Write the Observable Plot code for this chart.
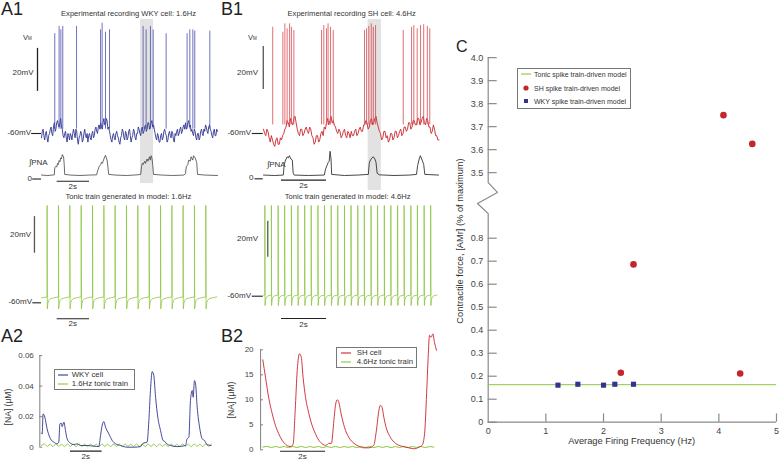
<!DOCTYPE html>
<html><head><meta charset="utf-8">
<script src="https://cdn.jsdelivr.net/npm/d3@7"></script>
<script src="https://cdn.jsdelivr.net/npm/@observablehq/plot@0.6"></script>
<style>
body{margin:0;background:#fff;}
#fig{position:relative;width:779px;height:462px;overflow:hidden;font-family:"Liberation Sans",Arial,sans-serif;color:#333;background:#fff;}
.lab{position:absolute;line-height:1;white-space:nowrap;}
.box{position:absolute;border:1px solid #777;background:#fff;box-sizing:border-box;}
</style></head><body><div id="fig"></div>
<script>
// ---------- DATA ----------
// A1: WKY recording (time s, membrane potential mV)
const baseA_dt = 0.05;
const baseA = [-62,-59,-58,-61,-63,-60,-59,-62,-64,-61,-60,-58,-57,-60,-61,-57,-55,-59,-58,-55,
 -54,-56,-57,-55,-53,-57,-58,-61,-62,-60,-59,-62,-64,-60,-61,-63,-60,-61,-63,-60,
 -58,-60,-62,-58,-59,-63,-65,-62,-61,-59,-60,-64,-63,-60,-58,-61,-62,-60,-64,-61,
 -60,-62,-63,-60,-59,-62,-61,-58,-57,-59,-60,-57,-56,-58,-55,-57,-58,-55,-53,-56,
 -56,-53,-54,-58,-57,-59,-61,-63,-64,-61,-60,-62,-63,-60,-59,-61,-62,-64,-65,-62,
 -61,-58,-59,-62,-63,-59,-60,-63,-62,-59,-58,-61,-64,-62,-61,-58,-59,-62,-63,-60,
 -60,-57,-58,-60,-61,-58,-57,-60,-59,-57,-56,-59,-58,-55,-55,-58,-57,-55,-54,-57,
 -56,-58,-60,-62,-63,-60,-61,-64,-64,-61,-60,-63,-62,-59,-58,-60,-61,-64,-63,-60,
 -59,-61,-62,-59,-60,-63,-64,-60,-61,-59,-58,-61,-60,-58,-57,-60,-59,-57,-56,-58,
 -55,-58,-57,-55,-54,-57,-56,-59,-58,-60,-61,-58,-59,-62,-63,-60,-60,-63,-62,-59,
 -58,-60,-61,-58,-59,-56,-57,-59,-60,-57,-56,-58,-59,-61,-62,-59,-58,-61,-61,-58,-59];
const spikeA_t = [0.83,1.10,1.21,1.33,2.19,3.69,3.79,4.00,4.25,6.35,6.54,6.81,6.98,7.79,9.10,9.27,9.46,9.58,10.52];
const spikeA_peak = [-13.6,-10.2,-11.8,-10.2,-10.2,-11.8,-8.7,-12.9,-11.8,-10.2,-11.8,-10.2,-11.8,-13.6,-13.6,-11.8,-11.8,-12.4,-12.4];
const pnaA_t = [0,0.4,0.8,0.83,0.9,0.95,1.0,1.05,1.1,1.15,1.2,1.25,1.3,1.38,1.42,1.45,1.8,2.4,3.0,3.45,3.5,3.6,3.7,3.75,3.8,3.9,3.95,4.0,4.05,4.1,4.15,4.2,4.6,5.3,6.0,6.2,6.25,6.3,6.35,6.45,6.5,6.6,6.65,6.75,6.8,6.85,6.9,6.95,7.0,7.5,8.2,8.9,9.0,9.05,9.15,9.2,9.3,9.35,9.45,9.5,9.6,9.7,9.75,10.2,11];
const pnaA_v = [0.02,0,0.03,0.35,0.42,0.38,0.55,0.5,0.68,0.62,0.8,0.75,0.95,0.85,0.5,0.05,0.02,0,0.02,0.03,0.2,0.4,0.5,0.6,0.55,0.75,0.85,0.92,0.8,0.7,0.4,0.05,0.02,0,0.03,0.05,0.4,0.55,0.5,0.65,0.55,0.75,0.65,0.85,0.7,0.9,0.8,0.5,0.05,0.02,0,0.02,0.08,0.4,0.5,0.7,0.65,0.85,0.7,0.9,0.8,0.6,0.05,0.02,0];
const shadeA = [6.19, 7.0];

// B1: SH recording
const baseB_dt = 0.05;
const baseB = [-58,-60,-61,-58,-59,-62,-64,-61,-63,-65,-66,-63,-62,-65,-65,-62,-63,-61,-60,-58,
 -57,-54,-55,-57,-53,-55,-56,-53,-52,-55,-58,-60,-61,-58,-58,-61,-60,-58,-57,-59,
 -60,-57,-58,-61,-62,-65,-64,-61,-61,-64,-63,-60,-59,-61,-57,-58,-55,-53,-56,-54,
 -52,-55,-54,-56,-57,-59,-60,-58,-59,-62,-61,-59,-58,-61,-62,-59,-60,-62,-59,-61,
 -61,-59,-58,-61,-60,-58,-57,-59,-59,-56,-56,-54,-55,-58,-57,-54,-53,-56,-55,-53,
 -52,-55,-57,-59,-60,-63,-62,-59,-59,-62,-61,-64,-63,-60,-60,-63,-62,-59,-59,-62,
 -61,-59,-58,-61,-60,-57,-57,-59,-58,-55,-55,-58,-57,-54,-54,-56,-56,-53,-53,-56,
 -55,-53,-52,-55,-56,-53,-54,-57,-57,-60,-59,-56,-58,-61,-61,-63,-63];
const spikeB_t = [0.41,0.86,0.95,1.05,1.16,1.24,1.35,2.58,2.68,2.80,2.87,2.98,3.10,4.49,4.58,4.68,4.79,4.88,4.98,6.21,6.58,6.68,6.83,6.98,7.12,7.28,7.39];
const spikeB_peak = [-10.6,-12.9,-9.0,-11.3,-9.0,-10.6,-12.1,-12.1,-9.8,-11.3,-9.0,-10.6,-12.1,-12.1,-11.3,-10.2,-9.0,-10.6,-9.8,-12.1,-10.6,-9.8,-11.3,-9.8,-9.4,-10.2,-11.3];
const pnaB_t = [0,0.5,0.88,0.92,0.98,1.05,1.1,1.15,1.22,1.28,1.32,1.36,2.0,2.7,2.76,2.82,2.88,2.92,2.96,3.0,3.03,3.6,4.2,4.66,4.7,4.75,4.82,4.88,4.95,5.0,5.05,5.15,5.8,6.5,6.8,6.85,6.92,6.97,7.05,7.12,7.17,7.78];
const pnaB_v = [0.02,0,0.02,0.5,0.7,0.85,0.8,0.9,0.75,0.7,0.1,0.02,0,0.02,0.3,0.45,0.6,0.65,1.1,0.75,0.05,0,0.02,0.05,0.55,0.7,0.8,0.85,0.75,0.6,0.1,0.03,0,0.02,0.05,0.45,0.75,0.9,0.7,0.5,0.05,0.02];
const shadeB = [4.65, 5.24];

// Tonic trains generated in model
const tonicA_t = [0.35,1.06,1.77,2.48,3.19,3.90,4.60,5.31,6.02,6.73,7.44,8.15,8.85,9.56,10.27];
const tonicA_dt = [0,0,0.015,0.05,0.1,0.2,0.4,0.69];
const tonicA_v = [-56.8,-6.8,-63.3,-60.3,-58.8,-57.8,-57.3,-56.8];
const tonicB_t = [0.06,0.35,0.65,0.94,1.24,1.53,1.83,2.12,2.42,2.71,3.01,3.30,3.60,3.89,4.19,4.48,4.78,5.07,5.37,5.66,5.96,6.25,6.55,6.84,7.14,7.43];
const tonicB_dt = [0,0,0.01,0.03,0.07,0.14,0.28];
const tonicB_v = [-59.3,-9.6,-65.2,-62,-60.5,-59.8,-59.4];

// A2: [NA] (µM), WKY cell and 1.6Hz tonic train
const naA_t = [0,0.04,0.10,0.21,0.35,0.56,0.77,0.98,1.08,1.15,1.25,1.29,1.40,1.5,1.6,1.81,2.02,2.23,2.44,2.85,3.27,3.58,3.69,3.79,3.9,4.0,4.1,4.21,4.42,4.63,4.94,5.35,5.77,6.19,6.35,6.6,6.71,6.81,6.92,7.02,7.13,7.27,7.44,7.6,7.69,7.79,8.06,8.48,9.0,9.1,9.21,9.31,9.42,9.48,9.56,9.63,9.73,9.88,10.04,10.19,10.35,10.6];
const naA_v = [0.0092,0.0087,0.0218,0.0196,0.012,0.0055,0.0033,0.0022,0.0033,0.0153,0.0157,0.0135,0.0164,0.0109,0.0055,0.0026,0.0017,0.0022,0.0011,0.0011,0.0007,0.0004,0.0076,0.0142,0.0168,0.0131,0.0109,0.0087,0.0044,0.0022,0.0011,0,0,0.0004,0.0026,0.0033,0.0174,0.0371,0.0495,0.0469,0.0327,0.0196,0.0109,0.0044,0.0039,0.0026,0.0011,0.0004,0.0011,0.0055,0.0065,0.0305,0.0371,0.0327,0.0436,0.0414,0.0262,0.0131,0.0055,0.0044,0.0017,0.0011];
const tonicNaA_dt = 0.18;
const tonicNaA = [0.0012,0.0022,0.0004,0.0021,0.0003,0.0023,0.0005,0.0020,0.0003,0.0022,0.0004,0.0021,0.0002,0.0023,0.0005,0.0021,0.0003,0.0022,0.0004,0.0020,0.0003,0.0022,0.0005,0.0021,0.0002,0.0023,0.0004,0.0021,0.0003,0.0022,0.0005,0.0020,0.0003,0.0022,0.0004,0.0021,0.0002,0.0023,0.0004,0.0021,0.0003,0.0022,0.0005,0.0020,0.0003,0.0022,0.0004,0.0021,0.0002,0.0023,0.0004,0.0021,0.0003,0.0022,0.0005,0.0020,0.0003,0.0022,0.0004,0.0021];
const naA_ticks = [0,0.02,0.04,0.06];
const naA_tickLabels = ["0","0.02","0.04","0.06"];

// B2: [NA] (µM), SH cell and 4.6Hz tonic train
const naB_t = [0.0,0.12,0.27,0.42,0.56,0.71,0.86,1.01,1.16,1.26,1.35,1.44,1.53,1.63,1.71,1.79,1.9,2.05,2.19,2.34,2.49,2.64,2.79,2.86,2.93,3.05,3.16,3.23,3.31,3.38,3.48,3.63,3.82,4.05,4.27,4.49,4.71,4.93,5.05,5.16,5.23,5.3,5.38,5.48,5.67,5.9,6.19,6.49,6.74,6.93,7.08,7.19,7.28,7.35,7.41,7.48,7.56,7.63,7.72];
const naB_v = [18.0,14.5,10.2,7.2,4.9,3.2,1.9,1.1,0.7,0.67,1.2,7.9,15.9,19.2,18.5,14.5,10.5,7.2,4.9,3.2,1.9,1.2,0.9,1.0,1.3,1.3,5.9,8.9,10.0,9.5,7.2,4.5,2.5,1.3,0.7,0.4,0.4,0.9,3.9,7.9,8.9,8.5,6.5,4.5,2.5,1.3,0.7,0.4,0.2,0.5,0.9,3.2,11.2,18.5,22.9,22.5,23.2,21.5,19.9];
const tonicNaB_dt = 0.19;
const tonicNaB = [0.55,0.68,0.45,0.66,0.47,0.67,0.44,0.65,0.46,0.68,0.45,0.66,0.47,0.67,0.44,0.65,0.46,0.68,0.45,0.66,0.47,0.67,0.44,0.65,0.46,0.68,0.45,0.66,0.47,0.67,0.44,0.65,0.46,0.68,0.45,0.66,0.47,0.67,0.44,0.65,0.55];
const naB_ticks = [0,5,10,15,20];

// C: contractile force vs average firing frequency
const tonicForce = 0.163;
const shFreq = [4.08,4.58,2.52,2.30,4.37];
const shForce = [3.75,3.625,0.686,0.215,0.212];
const wkyFreq = [1.21,1.555,2.0,2.196,2.52];
const wkyForce = [0.161,0.165,0.161,0.165,0.165];
const cTicksLow = [0,0.1,0.2,0.3,0.4,0.5,0.6,0.7,0.8];
const cTicksHigh = [3.5,3.6,3.7,3.8,3.9,4.0];
const cTicksX = [0,1,2,3,4,5];
const cBreak = 2.415; // axis break offset (upper segment shifted down)

// ---------- DRAWING ----------
const W = 779, H = 462;
const fig = document.getElementById("fig");
const FONT = '"Liberation Sans", Arial, sans-serif';
const BLUE = "#2f3590", RED = "#c9252b", GREEN = "#8dc641", AX = "#8a8a8a", INK = "#222";

function layer(xs, ys, marks) {
  const svg = Plot.plot({
    width: W, height: H, margin: 0,
    x: {...xs, axis: null}, y: {...ys, axis: null},
    style: {position: "absolute", left: "0px", top: "0px", background: "transparent", overflow: "visible", fontFamily: FONT},
    marks
  });
  fig.appendChild(svg);
}
function lab(text, x, y, o = {}) {
  const d = document.createElement("div");
  d.className = "lab";
  d.innerHTML = text;
  const tx = o.anchor === "start" ? "0" : o.anchor === "end" ? "-100%" : "-50%";
  d.style.left = x + "px"; d.style.top = y + "px";
  d.style.fontSize = (o.size || 8) + "px";
  d.style.color = o.color || "#333";
  d.style.transform = `translate(${tx},-50%)` + (o.rotate ? ` rotate(${o.rotate}deg)` : "");
  fig.appendChild(d);
}
const series = (ts, vs) => ts.map((t, i) => ({t, v: vs[i]}));
const sampled = (vs, dt) => vs.map((v, i) => ({t: i * dt, v}));
const train = (times, dts, vs, t0, v0) => {
  const out = [{t: t0, v: v0}];
  for (const s of times) dts.forEach((d, i) => out.push({t: s + d, v: vs[i]}));
  return out;
};

// A1 voltage
const xA1 = {domain: [0, 1], range: [41, 57]};
const yV1 = {domain: [-60, -40], range: [133, 90]};
layer(xA1, yV1, [
  Plot.rect([shadeA], {x1: d => d[0], x2: d => d[1], y1: -83.3, y2: -7, fill: "#e2e2e2"}),
  Plot.line(sampled(baseA, baseA_dt), {x: "t", y: "v", stroke: BLUE, strokeWidth: 0.9}),
  Plot.ruleX(series(spikeA_t, spikeA_peak), {x: "t", y1: -58, y2: "v", stroke: "#4a4fa8", strokeWidth: 0.8}),
  Plot.ruleX([-0.25], {y1: -40.4, y2: -20.4, stroke: INK, strokeWidth: 1.3}),
  Plot.ruleY([-60], {x1: -0.62, x2: 0, stroke: INK, strokeWidth: 1.1})
]);
const yP = {domain: [0, 1], range: [175, 153]};
layer(xA1, yP, [
  Plot.line(series(pnaA_t, pnaA_v), {x: "t", y: "v", stroke: "#444", strokeWidth: 0.8}),
  Plot.ruleY([-0.16], {x1: -0.55, x2: 0, stroke: INK, strokeWidth: 1.1}),
  Plot.ruleY([-0.26], {x1: 0.98, x2: 3.0, stroke: INK, strokeWidth: 1.1})
]);

// B1 voltage
const xB1 = {domain: [0, 1], range: [263, 285.5]};
layer(xB1, yV1, [
  Plot.rect([shadeB], {x1: d => d[0], x2: d => d[1], y1: -86.5, y2: -7, fill: "#e2e2e2"}),
  Plot.line(sampled(baseB, baseB_dt), {x: "t", y: "v", stroke: RED, strokeWidth: 0.9}),
  Plot.ruleX(series(spikeB_t, spikeB_peak), {x: "t", y1: -56, y2: "v", stroke: "#d64a4f", strokeWidth: 0.8}),
  Plot.ruleX([-0.01], {y1: -39.5, y2: -19.5, stroke: "#555", strokeWidth: 1.3}),
  Plot.ruleY([-60], {x1: -0.5, x2: -0.01, stroke: INK, strokeWidth: 1.1})
]);
layer(xB1, yP, [
  Plot.line(series(pnaB_t, pnaB_v), {x: "t", y: "v", stroke: "#333", strokeWidth: 0.9}),
  Plot.ruleY([-0.15], {x1: -0.38, x2: -0.01, stroke: INK, strokeWidth: 1.1}),
  Plot.ruleY([-0.21], {x1: 0.8, x2: 2.8, stroke: INK, strokeWidth: 1.1})
]);

// Tonic A
const yTA = {domain: [-60, -40], range: [302.3, 265.7]};
layer(xA1, yTA, [
  Plot.line(train(tonicA_t, tonicA_dt, tonicA_v, 0, -57.3), {x: "t", y: "v", stroke: GREEN, strokeWidth: 0.8}),
  Plot.ruleX([-0.44], {y1: -32.9, y2: -12.9, stroke: "#555", strokeWidth: 1.3}),
  Plot.ruleY([-60], {x1: -0.54, x2: 0, stroke: INK, strokeWidth: 1.1}),
  Plot.ruleY([-68.7], {x1: 0.98, x2: 3.0, stroke: INK, strokeWidth: 1.1})
]);
// Tonic B
const yTB = {domain: [-60, -40], range: [295.7, 259.7]};
layer(xB1, yTB, [
  Plot.line(train(tonicB_t, tonicB_dt, tonicB_v, 0, -59.4), {x: "t", y: "v", stroke: GREEN, strokeWidth: 0.8}),
  Plot.ruleX([0.19], {y1: -38.3, y2: -18.3, stroke: "#555", strokeWidth: 1.3}),
  Plot.ruleY([-60], {x1: -0.5, x2: -0.01, stroke: INK, strokeWidth: 1.1}),
  Plot.ruleY([-72.4], {x1: 0.8, x2: 2.8, stroke: INK, strokeWidth: 1.1})
]);

// A2
const xA2 = {domain: [0, 1], range: [41, 57]};
const yA2 = {domain: [0, 0.02], range: [446.7, 416.15]};
layer(xA2, yA2, [
  Plot.ruleX([-0.106], {y1: 0, y2: 0.06, stroke: AX, strokeWidth: 1.1}),
  Plot.ruleY(naA_ticks, {x1: -0.106, x2: 0.08, stroke: AX, strokeWidth: 1.1}),
  Plot.text(naA_ticks, {x: -0.106, y: d => d, text: (d, i) => naA_tickLabels[i], dx: -6, textAnchor: "end", fontSize: 8, fill: "#444"}),
  Plot.line(sampled(tonicNaA, tonicNaA_dt), {x: "t", y: "v", stroke: GREEN, strokeWidth: 0.9}),
  Plot.line(series(naA_t, naA_v), {x: "t", y: "v", stroke: BLUE, strokeWidth: 0.9, curve: "monotone-x"}),
  Plot.ruleY([-0.0026], {x1: 1.81, x2: 3.79, stroke: INK, strokeWidth: 1.1})
]);

// B2
const xB2 = {domain: [0, 1], range: [262.3, 284.8]};
const yB2 = {domain: [0, 5], range: [449.3, 424.3]};
layer(xB2, yB2, [
  Plot.ruleX([-0.1], {y1: 0, y2: 20, stroke: AX, strokeWidth: 1.1}),
  Plot.ruleY(naB_ticks, {x1: -0.1, x2: 0.03, stroke: AX, strokeWidth: 1.1}),
  Plot.text(naB_ticks, {x: -0.1, y: d => d, text: d => String(d), dx: -7, textAnchor: "end", fontSize: 8, fill: "#444"}),
  Plot.line(sampled(tonicNaB, tonicNaB_dt), {x: "t", y: "v", stroke: GREEN, strokeWidth: 1}),
  Plot.line(series(naB_t, naB_v), {x: "t", y: "v", stroke: RED, strokeWidth: 0.9, curve: "monotone-x"}),
  Plot.ruleY([-0.28], {x1: 0.79, x2: 2.79, stroke: INK, strokeWidth: 1.1})
]);

// C
const pos = v => v > 2 ? v - cBreak : v;
const xC = {domain: [0, 5], range: [487.7, 776]};
const yC = {domain: [0, 1], range: [421.7, 191.7]};
const yAxisLine = [{x: 0, y: 0}, {x: 0, y: 0.907}, {x: -0.186, y: 0.951}, {x: 0.16, y: 0.999}, {x: 0, y: 1.042}, {x: 0, y: pos(4.0)}];
const cTicksY = [...cTicksLow, ...cTicksHigh];
layer(xC, yC, [
  Plot.ruleY([0], {x1: 0, x2: 5, stroke: AX, strokeWidth: 1.2}),
  Plot.line(yAxisLine, {x: "x", y: "y", stroke: AX, strokeWidth: 1.2}),
  Plot.ruleY(cTicksY.map(pos), {x1: 0, x2: 0.156, stroke: AX, strokeWidth: 1.2}),
  Plot.ruleX(cTicksX.slice(1), {y1: 0, y2: 0.036, stroke: AX, strokeWidth: 1.2}),
  Plot.text(cTicksY, {x: 0, y: pos, text: d => d === 0 ? "0" : d.toFixed(1), dx: -5, textAnchor: "end", fontSize: 9, fill: "#444"}),
  Plot.text(cTicksX, {x: d => d, y: 0, text: d => String(d), dy: 9, fontSize: 9, fill: "#444"}),
  Plot.ruleY([tonicForce], {x1: 0, x2: 5, stroke: GREEN, strokeWidth: 1}),
  Plot.dot(series(wkyFreq, wkyForce), {x: "t", y: d => pos(d.v), symbol: "square", r: 2.9, fill: BLUE}),
  Plot.dot(series(shFreq, shForce), {x: "t", y: d => pos(d.v), r: 3.3, fill: "#c1272d"})
]);

// ---------- TEXT ----------
lab("A1", 1, 8.5, {size: 18, anchor: "start", color: "#222"});
lab("B1", 221, 8.5, {size: 18, anchor: "start", color: "#222"});
lab("A2", 1, 336, {size: 18, anchor: "start", color: "#222"});
lab("B2", 221, 336, {size: 18, anchor: "start", color: "#222"});
lab("C", 456, 47, {size: 16, anchor: "start", color: "#222"});

lab("Experimental recording WKY cell: 1.6Hz", 128.5, 14, {size: 7.6});
lab("Experimental recording SH cell: 4.6Hz", 351.7, 14, {size: 7.6});
lab("Tonic train generated in model: 1.6Hz", 128.3, 196.7, {size: 7.6});
lab("Tonic train generated in model: 4.6Hz", 347.7, 196.7, {size: 7.6});

const vm = 'V<span style="font-size:4.5px">M</span>';
lab(vm, 23, 38.3, {size: 7.5, anchor: "start"});
lab(vm, 248, 38.3, {size: 7.5, anchor: "start"});
lab("20mV", 33.5, 72.7, {anchor: "end"});
lab("20mV", 258, 72.7, {anchor: "end"});
lab("-60mV", 31, 133.3, {anchor: "end"});
lab("-60mV", 251, 133.3, {anchor: "end"});
lab("∫PNA", 29, 162.7, {anchor: "start"});
lab("∫PNA", 267, 165, {anchor: "start"});
lab("0", 32, 178.5, {anchor: "end"});
lab("0", 253.5, 178.3, {anchor: "end"});
lab("2s", 72.8, 186.5);
lab("2s", 303.5, 185.5);

lab("20mV", 31, 235, {anchor: "end"});
lab("20mV", 258, 239, {anchor: "end"});
lab("-60mV", 32, 302.3, {anchor: "end"});
lab("-60mV", 251, 295.7, {anchor: "end"});
lab("2s", 72.8, 324);
lab("2s", 303.5, 324.5);

lab("[NA] (μM)", 8, 406.7, {size: 8.5, rotate: -90});
lab("[NA] (μM)", 231, 400, {size: 8.5, rotate: -90});
lab("2s", 85.8, 457);
lab("2s", 302.5, 457);

lab("Contractile force, [AMr] (% of maximum)", 460.5, 241, {size: 9.3, rotate: -90});
lab("Average Firing Frequency (Hz)", 631.7, 441.7, {size: 9.3});

// ---------- LEGENDS ----------
function box(x, y, w, h) {
  const b = document.createElement("div");
  b.className = "box";
  Object.assign(b.style, {left: x + "px", top: y + "px", width: w + "px", height: h + "px"});
  fig.appendChild(b);
}
function swatch(kind, color, x, y) {
  const ns = "http://www.w3.org/2000/svg";
  const s = document.createElementNS(ns, "svg");
  s.setAttribute("width", 12); s.setAttribute("height", 8);
  Object.assign(s.style, {position: "absolute", left: (x - 6) + "px", top: (y - 4) + "px", overflow: "visible"});
  let e;
  if (kind === "line") { e = document.createElementNS(ns, "line"); e.setAttribute("x1", 1); e.setAttribute("x2", 11); e.setAttribute("y1", 4); e.setAttribute("y2", 4); e.setAttribute("stroke", color); e.setAttribute("stroke-width", 1.1); }
  else if (kind === "circle") { e = document.createElementNS(ns, "circle"); e.setAttribute("cx", 6); e.setAttribute("cy", 4); e.setAttribute("r", 2.6); e.setAttribute("fill", color); }
  else { e = document.createElementNS(ns, "rect"); e.setAttribute("x", 4); e.setAttribute("y", 2); e.setAttribute("width", 4); e.setAttribute("height", 4); e.setAttribute("fill", color); }
  s.appendChild(e);
  fig.appendChild(s);
}
box(54, 369.3, 81, 20.7);
swatch("line", BLUE, 62.5, 375);
swatch("line", GREEN, 62.5, 384.3);
lab("WKY cell", 71.7, 375, {size: 7.8, anchor: "start"});
lab("1.6Hz tonic train", 71.7, 384.3, {size: 7.8, anchor: "start"});

box(336, 347.3, 80.7, 21);
swatch("line", RED, 345.8, 352.7);
swatch("line", GREEN, 345.8, 362.3);
lab("SH cell", 356.7, 352.7, {size: 7.8, anchor: "start"});
lab("4.6Hz tonic train", 356.7, 362.3, {size: 7.8, anchor: "start"});

box(516.7, 68.3, 114, 40.7);
swatch("line", GREEN, 525.7, 73.7);
swatch("circle", "#c1272d", 525.7, 88.3);
swatch("square", BLUE, 525.7, 101.3);
lab("Tonic spike train-driven model", 534, 73.7, {size: 7.0, anchor: "start"});
lab("SH spike train-driven model", 534, 88.3, {size: 7.0, anchor: "start"});
lab("WKY spike train-driven model", 534, 101.3, {size: 7.0, anchor: "start"});
</script></body></html>
